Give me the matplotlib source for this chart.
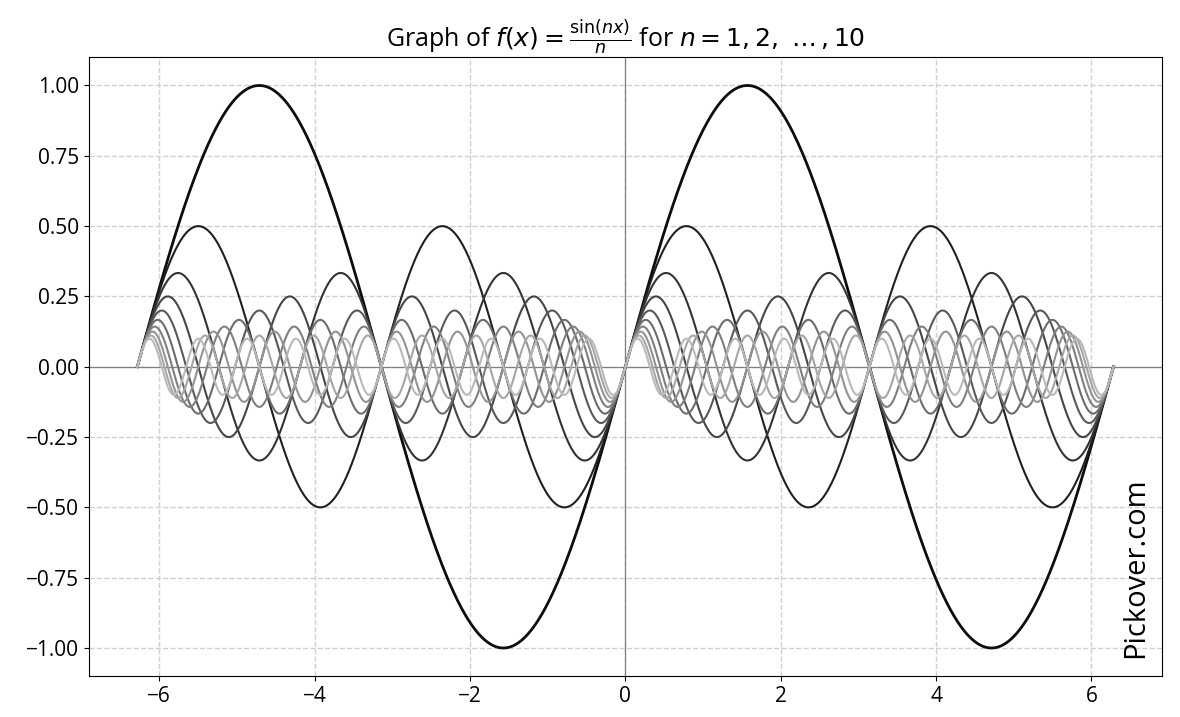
import numpy as np
from matplotlib import pyplot as plt

# curve parameters: f(x) = sin(n x) / n
harmonics = [1, 2, 3, 4, 5, 6, 7, 8, 9, 10]
x_start = -2 * np.pi
x_stop = 2 * np.pi
n_samples = 1000

title = r"Graph of $f(x) = \frac{\sin(nx)}{n}$ for $n = 1, 2,\ \ldots\,, 10$"
watermark = "Pickover.com"

plt.rcParams["font.family"] = ["Open Sans", "DejaVu Sans"]
plt.rcParams["font.size"] = 15

x = np.linspace(x_start, x_stop, n_samples)

fig, ax = plt.subplots(figsize=(11.8, 7.17), dpi=100)
for n in harmonics:
    level = 0.05 + (n - 1) * 0.075
    lw = 2.0 if n == 1 else 1.5
    ax.plot(x, np.sin(n * x) / n, color=str(level), linewidth=lw, zorder=3)

ax.axhline(0, color="gray", linewidth=0.9, zorder=2)
ax.axvline(0, color="gray", linewidth=0.9, zorder=2)
ax.grid(True, linestyle="--", color="#d0d0d0", linewidth=1.0)
ax.set_title(title, fontsize=18)
ax.set_yticks([-1, -0.75, -0.5, -0.25, 0, 0.25, 0.5, 0.75, 1.0])
ax.text(0.975, 0.03, watermark, transform=ax.transAxes, rotation=90,
        fontsize=21, ha="center", va="bottom", zorder=4)

plt.subplots_adjust(left=0.075, right=0.985, top=0.92, bottom=0.057)
plt.savefig("out.png", dpi=100)
